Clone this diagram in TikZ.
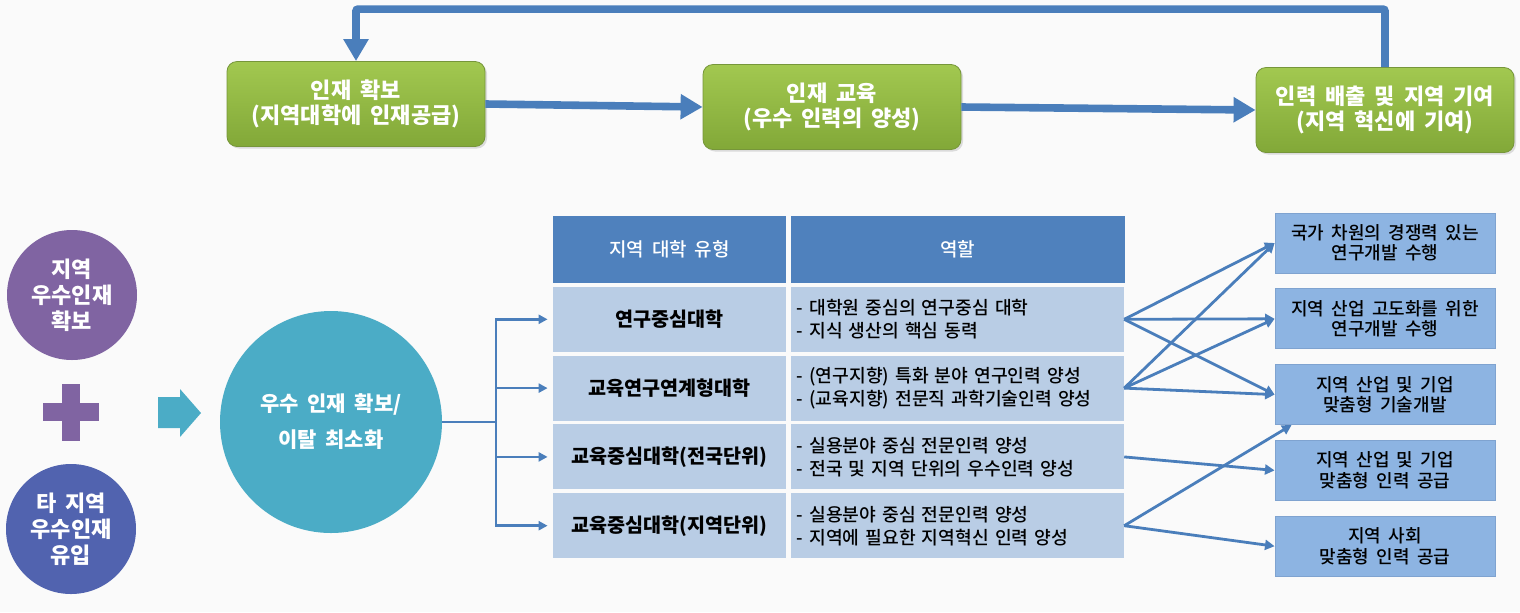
\documentclass[tikz,border=0pt]{standalone}
\usepackage{fontspec}
\setmainfont{Noto Sans CJK KR}[WordSpace=1.8]
\newfontfamily\krmedium{Noto Sans CJK KR Medium}[WordSpace=1.8]
\usepackage{xcolor}
\usepackage{tikz}
\usetikzlibrary{arrows.meta,positioning,shadows}

\definecolor{pagebg}{HTML}{FAFAFA}
\definecolor{stageTop}{HTML}{A2C850}
\definecolor{stageBottom}{HTML}{82A838}
\definecolor{stageEdge}{HTML}{76963A}
\definecolor{flowBlue}{HTML}{4A7EBB}
\definecolor{poolPurple}{HTML}{8064A2}
\definecolor{poolBlue}{HTML}{5163AF}
\definecolor{coreTeal}{HTML}{4BACC6}
\definecolor{headBlue}{HTML}{4F81BD}
\definecolor{rowBlue}{HTML}{B9CDE5}
\definecolor{outBlue}{HTML}{8DB4E2}
\definecolor{outEdge}{HTML}{7FA3D0}

\begin{document}
\begin{tikzpicture}[x=0.5pt, y=-0.5pt, node distance=1.5pt,
        stage/.style={rectangle, rounded corners=5pt, draw=stageEdge, top color=stageTop, bottom color=stageBottom,
            drop shadow={opacity=0.25, shadow xshift=1pt, shadow yshift=-1pt},
            text=white, align=center, font=\bfseries\fontsize{11}{12.5}\selectfont,
            minimum width=129pt, minimum height=42.5pt},
        pool/.style={circle, text=white, align=center, minimum size=65pt, inner sep=0pt,
            font=\bfseries\fontsize{11}{13}\selectfont},
        headcell/.style={rectangle, fill=headBlue, text=white, minimum height=33.5pt,
            font=\krmedium\fontsize{9.5}{11}\selectfont},
        typecell/.style={rectangle, fill=rowBlue, minimum width=116.5pt, minimum height=32.5pt,
            font=\bfseries\fontsize{9.8}{11}\selectfont},
        rolecell/.style={rectangle, fill=rowBlue, minimum height=32.5pt, inner xsep=3pt,
            text width=160.5pt, align=left, font=\krmedium\fontsize{9.1}{11.5}\selectfont},
        outcome/.style={rectangle, fill=outBlue, draw=outEdge, line width=0.4pt, align=center,
            minimum width=110pt, minimum height=30pt, font=\krmedium\fontsize{9}{10.2}\selectfont},
        bigflow/.style={draw=flowBlue, line width=3.8pt, -{Triangle[width=12pt,length=11pt]}},
        busline/.style={draw=flowBlue, line width=1.3pt},
        busarrow/.style={busline, -{Triangle[width=4.5pt,length=4.5pt]}, shorten >=2.5pt},
        fanarrow/.style={flowBlue, line width=1.4pt, -{Triangle[width=5pt,length=4.8pt]}}]

    \fill[pagebg] (0,0) rectangle (1520,612);
    \useasboundingbox (0,0) rectangle (1520,612);

    % upper cycle
    \node[stage, name=secure] at (356,104) {인재 확보\\(지역대학에 인재공급)};
    \node[stage, name=educate] at (832,107) {인재 교육\\(우수 인력의 양성)};
    \node[stage, name=contrib] at (1385,110) {인력 배출 및 지역 기여\\(지역 혁신에 기여)};

    \draw[bigflow] (secure.east) -- (educate.west);
    \draw[bigflow] (educate.east) -- (contrib.west);
    \draw[bigflow, rounded corners=1pt] (contrib.north) -- ++(0,-58) -| (secure.north);

    % talent pools
    \node[pool, fill=poolPurple, name=local] at (72,295) {지역\\우수인재\\확보};
    \node[pool, fill=poolBlue, name=inflow] at (71,529) {타 지역\\우수인재\\유입};
    \fill[poolPurple] (62,384) rectangle (80,441);
    \fill[poolPurple] (43,403) rectangle (99,421);
    \fill[coreTeal] (158,397) -- (180,397) -- (180,389) -- (201,413) -- (180,437) -- (180,428) -- (158,428) -- cycle;

    \node[circle, fill=coreTeal, text=white, minimum size=111pt, align=center,
        font=\bfseries\fontsize{10.5}{18}\selectfont, name=core] at (331,422) {우수 인재 확보/\\이탈 최소화};

    % university types
    \node[headcell, minimum width=116.5pt, name=headtype] at (669.5,249.5) {지역 대학 유형};
    \node[headcell, minimum width=167pt, right=2pt of headtype, name=headrole] {역할};

    \node[typecell, below=of headtype, name=type1] {연구중심대학};
    \node[typecell, below=of type1, name=type2] {교육연구연계형대학};
    \node[typecell, below=of type2, name=type3] {교육중심대학(전국단위)};
    \node[typecell, below=of type3, name=type4] {교육중심대학(지역단위)};

    \node[rolecell, right=2pt of type1, name=role1] {- 대학원 중심의 연구중심 대학\\- 지식 생산의 핵심 동력};
    \node[rolecell, right=2pt of type2, name=role2] {- (연구지향) 특화 분야 연구인력 양성\\- (교육지향) 전문직 과학기술인력 양성};
    \node[rolecell, right=2pt of type3, name=role3] {- 실용분야 중심 전문인력 양성\\- 전국 및 지역 단위의 우수인력 양성};
    \node[rolecell, right=2pt of type4, name=role4] {- 실용분야 중심 전문인력 양성\\- 지역에 필요한 지역혁신 인력 양성};

    \coordinate (split) at (496,422);
    \draw[busline] (core.east) -- (split);
    \foreach \r in {1,...,4}
        \draw[busarrow] (split) |- (type\r.west);

    % outcomes
    \node[outcome, name=out1] at (1385,243) {국가 차원의 경쟁력 있는\\연구개발 수행};
    \node[outcome, below=7.5pt of out1, name=out2] {지역 산업 고도화를 위한\\연구개발 수행};
    \node[outcome, below=7.5pt of out2, name=out3] {지역 산업 및 기업\\맞춤형 기술개발};
    \node[outcome, below=7.5pt of out3, name=out4] {지역 산업 및 기업\\맞춤형 인력 공급};
    \node[outcome, below=7.5pt of out4, name=out5] {지역 사회\\맞춤형 인력 공급};
    \coordinate (out3foot) at ([xshift=8.5pt]out3.south west);

    \path[fanarrow]
        (role1.east) edge (out1.west)
        (role1.east) edge (out2.west)
        (role1.east) edge (out3.west)
        (role2.east) edge (out1.west)
        (role2.east) edge (out2.west)
        (role2.east) edge (out3.west)
        (role3.east) edge (out4.west)
        (role4.east) edge (out3foot)
        (role4.east) edge (out5.west);
\end{tikzpicture}
\end{document}
